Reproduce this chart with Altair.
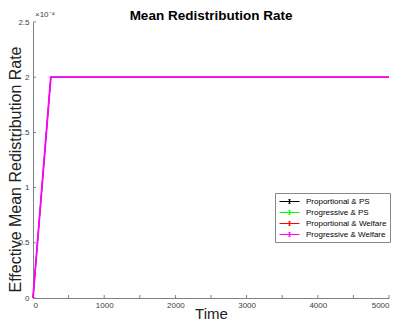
import altair as alt
import pandas as pd

time = [0, 250, 500, 750, 1000, 1250, 1500, 1750, 2000, 2250, 2500, 2750, 3000,
        3250, 3500, 3750, 4000, 4250, 4500, 4750, 5000]
rate = [0.0] + [0.0002] * 20
series = ["Proportional & PS", "Progressive & PS", "Proportional & Welfare", "Progressive & Welfare"]
colors = ["#000000", "#00ff00", "#ff0000", "#ff00ff"]
x_ticks = [0, 500, 1000, 1500, 2000, 2500, 3000, 3500, 4000, 4500, 5000]
y_ticks = [0, 0.00005, 0.0001, 0.00015, 0.0002, 0.00025]
title_text = "Mean Redistribution Rate"
exponent_text = "×10⁻⁴"

rows = []
for i, s in enumerate(series):
    for t, r in zip(time, rate):
        rows.append({"Time": t, "Rate": r, "Series": s, "order": i})
df = pd.DataFrame(rows)

FONT = "Liberation Sans"
W, H = 356, 276

xs = alt.Scale(domain=[0, 5000], nice=False)
ys = alt.Scale(domain=[0, 0.00025], nice=False)

sym = "M-2,0H2M0,-0.35V0.35M-0.25,-0.35H0.25M-0.25,0.35H0.25"

lines = alt.Chart(df).mark_line().encode(
    x=alt.X("Time:Q", scale=xs,
            axis=alt.Axis(values=x_ticks, title="Time", grid=False, tickSize=0, format="d",
                          labelFontSize=8, labelColor="#404040", labelPadding=3,
                          domainColor="#808080", titleFontSize=15, titleFontWeight="normal",
                          titleColor="#222222", titleY=15, titleBaseline="middle")),
    y=alt.Y("Rate:Q", scale=ys,
            axis=alt.Axis(values=y_ticks, title="Effective Mean Redistribution Rate", grid=False,
                          tickSize=0, labelFontSize=8, labelColor="#404040", labelPadding=4,
                          labelExpr="toString(round(datum.value*100000)/10)",
                          domainColor="#808080", titleFontSize=16, titleFontWeight="normal",
                          titleColor="#222222", titleX=-18, titleY=147, titleAngle=-90,
                          titleAlign="center", titleBaseline="middle")),
    color=alt.Color("Series:N", scale=alt.Scale(domain=series, range=colors),
                    legend=alt.Legend(title=None, orient="none", legendX=242, legendY=171,
                                      symbolType=sym, symbolSize=100, symbolStrokeWidth=1,
                                      symbolOffset=6, labelOffset=11,
                                      labelFontSize=8, labelFont=FONT, rowPadding=1,
                                      strokeColor="#888888", fillColor="white", padding=3,
                                      labelLimit=200)),
    strokeWidth=alt.condition(alt.datum.Series == "Progressive & Welfare",
                              alt.value(1.8), alt.value(0.8)),
    order="order:Q",
)

xtick_df = pd.DataFrame({"t": x_ticks})
xticks = alt.Chart(xtick_df).mark_rule(color="#808080", strokeWidth=1).encode(
    x=alt.X("t:Q", scale=xs), y=alt.value(H), y2=alt.value(H - 3))
ytick_df = pd.DataFrame({"v": y_ticks})
yticks = alt.Chart(ytick_df).mark_rule(color="#808080", strokeWidth=1).encode(
    y=alt.Y("v:Q", scale=ys), x=alt.value(0), x2=alt.value(3))

exp_label = alt.Chart(pd.DataFrame({"s": [exponent_text]})).mark_text(
    align="left", baseline="alphabetic", fontSize=8, font=FONT, color="#404040"
).encode(x=alt.value(2), y=alt.value(-5), text="s:N")

title_mark = alt.Chart(pd.DataFrame({"s": [title_text]})).mark_text(
    align="center", baseline="alphabetic", fontSize=13.5, fontWeight="bold", font=FONT,
    color="#000000"
).encode(x=alt.value(W / 2), y=alt.value(-2), text="s:N")

chart = alt.layer(yticks, xticks, lines, exp_label, title_mark).properties(
    width=W, height=H,
    autosize=alt.AutoSizeParams(type="none"),
    padding={"left": 25, "top": 14, "right": 2, "bottom": 23},
).configure(font=FONT).configure_view(stroke=None)

chart.save("out.html", embed_options={"renderer": "svg", "actions": False})
